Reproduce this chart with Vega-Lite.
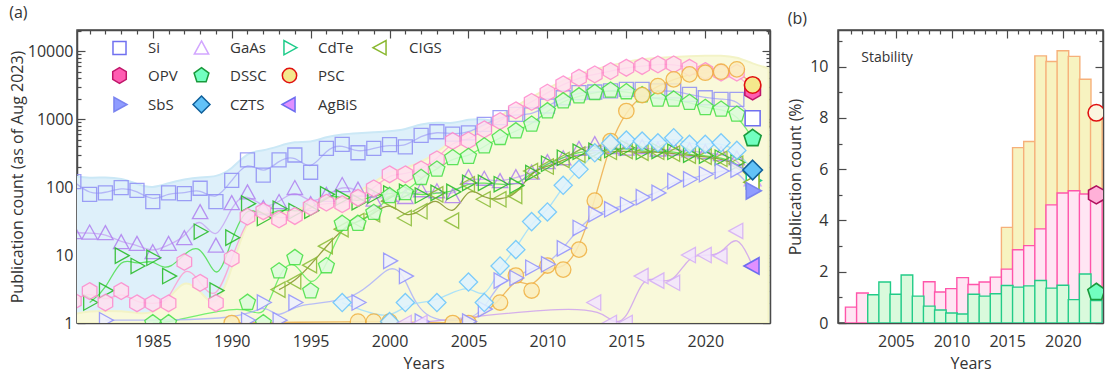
{
"$schema": "https://vega.github.io/schema/vega-lite/v6.json",
"padding": {"left": 8, "top": 3, "right": 0, "bottom": 0},
"background": "white",
"config": {
 "font": "Open Sans",
 "view": {"stroke": "#4a4a4a", "strokeWidth": 1.5},
 "axis": {"labelFontSize": 16, "titleFontSize": 16, "labelColor": "#333", "titleColor": "#333", "titleFontWeight": "normal", "domainColor": "#4a4a4a", "tickColor": "#4a4a4a", "domainWidth": 1.5, "tickWidth": 1.2, "grid": false, "labelFlush": false, "labelOverlap": false},
 "title": {"fontSize": 16, "fontWeight": "normal", "color": "#333", "anchor": "start", "frame": "bounds"}
},
"datasets": {
 "pv": [
  {"s":"Si","y":1980,"v":120},{"s":"Si","y":1981,"v":78},{"s":"Si","y":1982,"v":82},{"s":"Si","y":1983,"v":98},{"s":"Si","y":1984,"v":89},{"s":"Si","y":1985,"v":61},{"s":"Si","y":1986,"v":82},{"s":"Si","y":1987,"v":80},{"s":"Si","y":1988,"v":96},{"s":"Si","y":1989,"v":61},{"s":"Si","y":1990,"v":125},{"s":"Si","y":1991,"v":250},{"s":"Si","y":1992,"v":150},{"s":"Si","y":1993,"v":250},{"s":"Si","y":1994,"v":296},{"s":"Si","y":1995,"v":165},{"s":"Si","y":1996,"v":371},{"s":"Si","y":1997,"v":424},{"s":"Si","y":1998,"v":319},{"s":"Si","y":1999,"v":371},{"s":"Si","y":2000,"v":420},{"s":"Si","y":2001,"v":390},{"s":"Si","y":2002,"v":575},{"s":"Si","y":2003,"v":650},{"s":"Si","y":2004,"v":600},{"s":"Si","y":2005,"v":625},{"s":"Si","y":2006,"v":835},{"s":"Si","y":2007,"v":1050},{"s":"Si","y":2008,"v":1170},{"s":"Si","y":2009,"v":1150},{"s":"Si","y":2010,"v":1555},{"s":"Si","y":2011,"v":2056},{"s":"Si","y":2012,"v":2438},{"s":"Si","y":2013,"v":2500},{"s":"Si","y":2014,"v":2600},{"s":"Si","y":2015,"v":2735},{"s":"Si","y":2016,"v":2735},{"s":"Si","y":2017,"v":2600},{"s":"Si","y":2018,"v":2600},{"s":"Si","y":2019,"v":2300},{"s":"Si","y":2020,"v":2056},{"s":"Si","y":2021,"v":1950},{"s":"Si","y":2022,"v":1950},{"s":"Si","y":2023,"v":1025},
  {"s":"GaAs","y":1980,"v":21.3},{"s":"GaAs","y":1981,"v":21},{"s":"GaAs","y":1982,"v":20.6},{"s":"GaAs","y":1983,"v":15.2},{"s":"GaAs","y":1984,"v":14.3},{"s":"GaAs","y":1985,"v":10.8},{"s":"GaAs","y":1986,"v":14.3},{"s":"GaAs","y":1987,"v":17.4},{"s":"GaAs","y":1988,"v":41.9},{"s":"GaAs","y":1989,"v":13.5},{"s":"GaAs","y":1990,"v":57},{"s":"GaAs","y":1991,"v":82},{"s":"GaAs","y":1992,"v":48},{"s":"GaAs","y":1993,"v":59},{"s":"GaAs","y":1994,"v":95},{"s":"GaAs","y":1995,"v":55},{"s":"GaAs","y":1996,"v":75},{"s":"GaAs","y":1997,"v":105},{"s":"GaAs","y":1998,"v":90},{"s":"GaAs","y":1999,"v":64},{"s":"GaAs","y":2000,"v":75},{"s":"GaAs","y":2001,"v":70},{"s":"GaAs","y":2002,"v":88},{"s":"GaAs","y":2003,"v":85},{"s":"GaAs","y":2004,"v":72},{"s":"GaAs","y":2005,"v":137},{"s":"GaAs","y":2006,"v":130},{"s":"GaAs","y":2007,"v":120},{"s":"GaAs","y":2008,"v":137},{"s":"GaAs","y":2009,"v":160},{"s":"GaAs","y":2010,"v":228},{"s":"GaAs","y":2011,"v":260},{"s":"GaAs","y":2012,"v":358},{"s":"GaAs","y":2013,"v":420},{"s":"GaAs","y":2014,"v":380},{"s":"GaAs","y":2015,"v":360},{"s":"GaAs","y":2016,"v":380},{"s":"GaAs","y":2017,"v":350},{"s":"GaAs","y":2018,"v":360},{"s":"GaAs","y":2019,"v":340},{"s":"GaAs","y":2020,"v":320},{"s":"GaAs","y":2021,"v":300},{"s":"GaAs","y":2022,"v":260},{"s":"GaAs","y":2023,"v":130},
  {"s":"CdTe","y":1981,"v":2.0},{"s":"CdTe","y":1982,"v":3.0},{"s":"CdTe","y":1983,"v":9.8},{"s":"CdTe","y":1984,"v":6.9},{"s":"CdTe","y":1985,"v":9.1},{"s":"CdTe","y":1986,"v":4.9},{"s":"CdTe","y":1988,"v":22},{"s":"CdTe","y":1989,"v":3.0},{"s":"CdTe","y":1990,"v":18},{"s":"CdTe","y":1991,"v":57},{"s":"CdTe","y":1992,"v":35},{"s":"CdTe","y":1993,"v":48},{"s":"CdTe","y":1994,"v":44},{"s":"CdTe","y":1995,"v":45},{"s":"CdTe","y":1996,"v":78},{"s":"CdTe","y":1997,"v":70},{"s":"CdTe","y":1998,"v":60},{"s":"CdTe","y":1999,"v":75},{"s":"CdTe","y":2000,"v":80},{"s":"CdTe","y":2001,"v":85},{"s":"CdTe","y":2002,"v":75},{"s":"CdTe","y":2003,"v":82},{"s":"CdTe","y":2004,"v":85},{"s":"CdTe","y":2005,"v":115},{"s":"CdTe","y":2006,"v":115},{"s":"CdTe","y":2007,"v":110},{"s":"CdTe","y":2008,"v":105},{"s":"CdTe","y":2009,"v":160},{"s":"CdTe","y":2010,"v":220},{"s":"CdTe","y":2011,"v":270},{"s":"CdTe","y":2012,"v":330},{"s":"CdTe","y":2013,"v":340},{"s":"CdTe","y":2014,"v":350},{"s":"CdTe","y":2015,"v":378},{"s":"CdTe","y":2016,"v":330},{"s":"CdTe","y":2017,"v":340},{"s":"CdTe","y":2018,"v":330},{"s":"CdTe","y":2019,"v":300},{"s":"CdTe","y":2020,"v":290},{"s":"CdTe","y":2021,"v":270},{"s":"CdTe","y":2022,"v":230},{"s":"CdTe","y":2023,"v":125},
  {"s":"CIGS","y":1993,"v":3.1},{"s":"CIGS","y":1994,"v":4.1},{"s":"CIGS","y":1995,"v":7.1},{"s":"CIGS","y":1996,"v":13.5},{"s":"CIGS","y":1997,"v":24},{"s":"CIGS","y":1998,"v":31.6},{"s":"CIGS","y":1999,"v":40},{"s":"CIGS","y":2000,"v":62},{"s":"CIGS","y":2001,"v":35},{"s":"CIGS","y":2002,"v":44},{"s":"CIGS","y":2003,"v":78},{"s":"CIGS","y":2004,"v":32},{"s":"CIGS","y":2005,"v":110},{"s":"CIGS","y":2006,"v":66},{"s":"CIGS","y":2007,"v":66},{"s":"CIGS","y":2008,"v":74},{"s":"CIGS","y":2009,"v":172},{"s":"CIGS","y":2010,"v":200},{"s":"CIGS","y":2011,"v":250},{"s":"CIGS","y":2012,"v":300},{"s":"CIGS","y":2013,"v":320},{"s":"CIGS","y":2014,"v":330},{"s":"CIGS","y":2015,"v":340},{"s":"CIGS","y":2016,"v":320},{"s":"CIGS","y":2017,"v":330},{"s":"CIGS","y":2018,"v":310},{"s":"CIGS","y":2019,"v":290},{"s":"CIGS","y":2020,"v":280},{"s":"CIGS","y":2021,"v":260},{"s":"CIGS","y":2022,"v":220},{"s":"CIGS","y":2023,"v":118},
  {"s":"OPV","y":1980,"v":2.1},{"s":"OPV","y":1981,"v":2.95},{"s":"OPV","y":1982,"v":2.0},{"s":"OPV","y":1983,"v":2.95},{"s":"OPV","y":1984,"v":1.95},{"s":"OPV","y":1985,"v":1.95},{"s":"OPV","y":1986,"v":1.95},{"s":"OPV","y":1987,"v":7.9},{"s":"OPV","y":1988,"v":3.9},{"s":"OPV","y":1989,"v":1.97},{"s":"OPV","y":1990,"v":8.9},{"s":"OPV","y":1991,"v":36.6},{"s":"OPV","y":1992,"v":44},{"s":"OPV","y":1993,"v":33.5},{"s":"OPV","y":1994,"v":37.5},{"s":"OPV","y":1995,"v":51},{"s":"OPV","y":1996,"v":59},{"s":"OPV","y":1997,"v":56},{"s":"OPV","y":1998,"v":69.6},{"s":"OPV","y":1999,"v":95.6},{"s":"OPV","y":2000,"v":154},{"s":"OPV","y":2001,"v":154},{"s":"OPV","y":2002,"v":182},{"s":"OPV","y":2003,"v":255},{"s":"OPV","y":2004,"v":475},{"s":"OPV","y":2005,"v":485},{"s":"OPV","y":2006,"v":706},{"s":"OPV","y":2007,"v":934},{"s":"OPV","y":2008,"v":1343},{"s":"OPV","y":2009,"v":1790},{"s":"OPV","y":2010,"v":2440},{"s":"OPV","y":2011,"v":3240},{"s":"OPV","y":2012,"v":4050},{"s":"OPV","y":2013,"v":4540},{"s":"OPV","y":2014,"v":5080},{"s":"OPV","y":2015,"v":5680},{"s":"OPV","y":2016,"v":6020},{"s":"OPV","y":2017,"v":6370},{"s":"OPV","y":2018,"v":6370},{"s":"OPV","y":2019,"v":5680},{"s":"OPV","y":2020,"v":5080},{"s":"OPV","y":2021,"v":4800},{"s":"OPV","y":2022,"v":4800},{"s":"OPV","y":2023,"v":2600},
  {"s":"DSSC","y":1985,"v":1},{"s":"DSSC","y":1986,"v":1},{"s":"DSSC","y":1991,"v":2.0},{"s":"DSSC","y":1992,"v":1},{"s":"DSSC","y":1993,"v":5.8},{"s":"DSSC","y":1994,"v":9.1},{"s":"DSSC","y":1995,"v":2.95},{"s":"DSSC","y":1996,"v":6.9},{"s":"DSSC","y":1997,"v":29},{"s":"DSSC","y":1998,"v":29},{"s":"DSSC","y":1999,"v":42},{"s":"DSSC","y":2000,"v":74},{"s":"DSSC","y":2001,"v":82},{"s":"DSSC","y":2002,"v":137},{"s":"DSSC","y":2003,"v":182},{"s":"DSSC","y":2004,"v":268},{"s":"DSSC","y":2005,"v":280},{"s":"DSSC","y":2006,"v":400},{"s":"DSSC","y":2007,"v":531},{"s":"DSSC","y":2008,"v":666},{"s":"DSSC","y":2009,"v":834},{"s":"DSSC","y":2010,"v":1312},{"s":"DSSC","y":2011,"v":1840},{"s":"DSSC","y":2012,"v":2180},{"s":"DSSC","y":2013,"v":2440},{"s":"DSSC","y":2014,"v":2640},{"s":"DSSC","y":2015,"v":2500},{"s":"DSSC","y":2016,"v":2254},{"s":"DSSC","y":2017,"v":1950},{"s":"DSSC","y":2018,"v":1950},{"s":"DSSC","y":2019,"v":1740},{"s":"DSSC","y":2020,"v":1466},{"s":"DSSC","y":2021,"v":1389},{"s":"DSSC","y":2022,"v":1170},{"s":"DSSC","y":2023,"v":520},
  {"s":"PSC","y":1990,"v":1},{"s":"PSC","y":1998,"v":1.05},{"s":"PSC","y":1999,"v":1.05},{"s":"PSC","y":2000,"v":1.05},{"s":"PSC","y":2004,"v":1},{"s":"PSC","y":2005,"v":1},{"s":"PSC","y":2007,"v":2.0},{"s":"PSC","y":2008,"v":5.0},{"s":"PSC","y":2009,"v":3.0},{"s":"PSC","y":2010,"v":7.0},{"s":"PSC","y":2011,"v":6.1},{"s":"PSC","y":2012,"v":12},{"s":"PSC","y":2013,"v":63},{"s":"PSC","y":2014,"v":475},{"s":"PSC","y":2015,"v":1312},{"s":"PSC","y":2016,"v":2254},{"s":"PSC","y":2017,"v":3055},{"s":"PSC","y":2018,"v":3830},{"s":"PSC","y":2019,"v":4540},{"s":"PSC","y":2020,"v":4800},{"s":"PSC","y":2021,"v":4970},{"s":"PSC","y":2022,"v":5380},{"s":"PSC","y":2023,"v":3170},
  {"s":"SbS","y":1982,"v":1.1},{"s":"SbS","y":1991,"v":1.1},{"s":"SbS","y":1992,"v":2.0},{"s":"SbS","y":1993,"v":1.1},{"s":"SbS","y":1994,"v":2.0},{"s":"SbS","y":1998,"v":2.0},{"s":"SbS","y":2000,"v":8.2},{"s":"SbS","y":2001,"v":4.9},{"s":"SbS","y":2002,"v":1.05},{"s":"SbS","y":2005,"v":1.05},{"s":"SbS","y":2006,"v":1.6},{"s":"SbS","y":2007,"v":4.2},{"s":"SbS","y":2008,"v":4.6},{"s":"SbS","y":2009,"v":6.5},{"s":"SbS","y":2010,"v":7.3},{"s":"SbS","y":2011,"v":12.5},{"s":"SbS","y":2012,"v":25},{"s":"SbS","y":2013,"v":40},{"s":"SbS","y":2014,"v":47},{"s":"SbS","y":2015,"v":55},{"s":"SbS","y":2016,"v":71},{"s":"SbS","y":2017,"v":82},{"s":"SbS","y":2018,"v":122},{"s":"SbS","y":2019,"v":130},{"s":"SbS","y":2020,"v":154},{"s":"SbS","y":2021,"v":172},{"s":"SbS","y":2022,"v":180},{"s":"SbS","y":2023,"v":88},
  {"s":"CZTS","y":1997,"v":2.0},{"s":"CZTS","y":2000,"v":1.05},{"s":"CZTS","y":2001,"v":2.0},{"s":"CZTS","y":2003,"v":2.0},{"s":"CZTS","y":2005,"v":4.0},{"s":"CZTS","y":2006,"v":2.0},{"s":"CZTS","y":2007,"v":6.9},{"s":"CZTS","y":2008,"v":12},{"s":"CZTS","y":2009,"v":31},{"s":"CZTS","y":2010,"v":43},{"s":"CZTS","y":2011,"v":106},{"s":"CZTS","y":2012,"v":182},{"s":"CZTS","y":2013,"v":319},{"s":"CZTS","y":2014,"v":440},{"s":"CZTS","y":2015,"v":490},{"s":"CZTS","y":2016,"v":475},{"s":"CZTS","y":2017,"v":447},{"s":"CZTS","y":2018,"v":531},{"s":"CZTS","y":2019,"v":425},{"s":"CZTS","y":2020,"v":425},{"s":"CZTS","y":2021,"v":447},{"s":"CZTS","y":2022,"v":346},{"s":"CZTS","y":2023,"v":178},
  {"s":"AgBiS","y":2001,"v":1.0},{"s":"AgBiS","y":2002,"v":1.0},{"s":"AgBiS","y":2013,"v":2.0},{"s":"AgBiS","y":2014,"v":1.0},{"s":"AgBiS","y":2015,"v":1.0},{"s":"AgBiS","y":2016,"v":4.9},{"s":"AgBiS","y":2017,"v":4.2},{"s":"AgBiS","y":2018,"v":3.9},{"s":"AgBiS","y":2019,"v":10},{"s":"AgBiS","y":2020,"v":10},{"s":"AgBiS","y":2021,"v":9.7},{"s":"AgBiS","y":2022,"v":22.6},{"s":"AgBiS","y":2023,"v":6.9}
 ],
 "blue": [
  {"y":1980,"v":145},{"y":1981,"v":135},{"y":1982,"v":140},{"y":1983,"v":135},{"y":1984,"v":110},{"y":1985,"v":95},{"y":1986,"v":115},{"y":1987,"v":130},{"y":1988,"v":140},{"y":1989,"v":140},{"y":1990,"v":180},{"y":1991,"v":330},{"y":1992,"v":340},{"y":1993,"v":400},{"y":1994,"v":470},{"y":1995,"v":450},{"y":1996,"v":550},{"y":1997,"v":600},{"y":1998,"v":620},{"y":1999,"v":640},{"y":2000,"v":660},{"y":2001,"v":700},{"y":2002,"v":850},{"y":2003,"v":900},{"y":2004,"v":850},{"y":2005,"v":1000},{"y":2006,"v":1000},{"y":2007,"v":900},{"y":2008,"v":800},{"y":2010,"v":700},{"y":2024,"v":700}
 ],
 "yellow": [
  {"y":1980,"v":1.35},{"y":1981,"v":1.5},{"y":1982,"v":1.5},{"y":1983,"v":1.5},{"y":1984,"v":1.4},{"y":1985,"v":1.35},{"y":1986,"v":2.2},{"y":1987,"v":4.6},{"y":1988,"v":3.0},{"y":1989,"v":1.5},{"y":1990,"v":6},{"y":1991,"v":38},{"y":1992,"v":42},{"y":1993,"v":40},{"y":1994,"v":45},{"y":1995,"v":55},{"y":1996,"v":65},{"y":1997,"v":70},{"y":1998,"v":85},{"y":1999,"v":115},{"y":2000,"v":170},{"y":2001,"v":190},{"y":2002,"v":230},{"y":2003,"v":320},{"y":2004,"v":500},{"y":2005,"v":580},{"y":2006,"v":820},{"y":2007,"v":1100},{"y":2008,"v":1550},{"y":2009,"v":2100},{"y":2010,"v":2800},{"y":2011,"v":3700},{"y":2012,"v":4600},{"y":2013,"v":5400},{"y":2014,"v":6100},{"y":2015,"v":7000},{"y":2016,"v":7600},{"y":2017,"v":8000},{"y":2018,"v":8200},{"y":2019,"v":8400},{"y":2020,"v":8500},{"y":2021,"v":8600},{"y":2022,"v":8200},{"y":2023,"v":6500},{"y":2024,"v":5600}
 ],
 "stab": [
  {"y":2015,"s":"PSC","p":3.73},{"y":2016,"s":"PSC","p":6.84},{"y":2017,"s":"PSC","p":7.08},{"y":2018,"s":"PSC","p":10.42},{"y":2019,"s":"PSC","p":10.2},{"y":2020,"s":"PSC","p":10.62},{"y":2021,"s":"PSC","p":10.4},{"y":2022,"s":"PSC","p":9.51},{"y":2023,"s":"PSC","p":8.2},
  {"y":2001,"s":"OPV","p":0.62},{"y":2002,"s":"OPV","p":1.17},{"y":2008,"s":"OPV","p":1.61},{"y":2009,"s":"OPV","p":1.21},{"y":2010,"s":"OPV","p":1.34},{"y":2011,"s":"OPV","p":1.77},{"y":2012,"s":"OPV","p":1.5},{"y":2013,"s":"OPV","p":1.6},{"y":2014,"s":"OPV","p":1.79},{"y":2015,"s":"OPV","p":2.1},{"y":2016,"s":"OPV","p":2.86},{"y":2017,"s":"OPV","p":3.02},{"y":2018,"s":"OPV","p":3.67},{"y":2019,"s":"OPV","p":4.61},{"y":2020,"s":"OPV","p":5.07},{"y":2021,"s":"OPV","p":5.16},{"y":2022,"s":"OPV","p":5.03},{"y":2023,"s":"OPV","p":5.0},
  {"y":2003,"s":"DSSC","p":1.1},{"y":2004,"s":"DSSC","p":1.6},{"y":2005,"s":"DSSC","p":1.12},{"y":2006,"s":"DSSC","p":1.87},{"y":2007,"s":"DSSC","p":1.05},{"y":2008,"s":"DSSC","p":0.66},{"y":2009,"s":"DSSC","p":0.51},{"y":2010,"s":"DSSC","p":0.39},{"y":2011,"s":"DSSC","p":0.35},{"y":2012,"s":"DSSC","p":1.12},{"y":2013,"s":"DSSC","p":1.05},{"y":2014,"s":"DSSC","p":1.14},{"y":2015,"s":"DSSC","p":1.46},{"y":2016,"s":"DSSC","p":1.4},{"y":2017,"s":"DSSC","p":1.45},{"y":2018,"s":"DSSC","p":1.66},{"y":2019,"s":"DSSC","p":1.36},{"y":2020,"s":"DSSC","p":1.47},{"y":2021,"s":"DSSC","p":0.91},{"y":2022,"s":"DSSC","p":1.91},{"y":2023,"s":"DSSC","p":0.88}
 ],
 "stabpts": [
  {"y":2023,"s":"PSC","p":8.2},{"y":2023,"s":"OPV","p":5.0},{"y":2023,"s":"DSSC","p":1.2}
 ],
 "lbl": [{"t":"Stability","y":2001.9,"p":10.32}]
},
"spacing": 14,
"hconcat": [
 {
  "width": 693, "height": 293,
  "title": {"text": "(a)", "offset": 2},
  "resolve": {"scale": {"color": "independent", "fill": "independent", "stroke": "independent", "shape": "independent"}, "axis": {"x": "independent", "y": "independent"}},
  "layer": [
   {
    "data": {"name": "blue"},
    "mark": {"type": "area", "interpolate": "basis", "color": "#def0fa", "stroke": "#cbe8f6", "strokeWidth": 2, "clip": true},
    "encoding": {
     "x": {"field": "y", "type": "quantitative", "scale": {"domain": [1980.2, 2024.1], "nice": false, "zero": false},
       "axis": {"orient": "bottom", "values": [1981,1982,1983,1984,1985,1986,1987,1988,1989,1990,1991,1992,1993,1994,1995,1996,1997,1998,1999,2000,2001,2002,2003,2004,2005,2006,2007,2008,2009,2010,2011,2012,2013,2014,2015,2016,2017,2018,2019,2020,2021,2022,2023,2024], "format": "d", "labelExpr": "datum.value % 5 === 0 ? datum.label : ''", "tickSize": {"condition": {"test": "datum.value % 5 === 0", "value": -8}, "value": -4}, "labelPadding": 18, "title": "Years", "titlePadding": 2}},
     "y": {"field": "v", "type": "quantitative", "scale": {"type": "log", "domain": [1, 20400], "nice": false},
       "axis": {"orient": "left", "values": [1,2,3,4,5,6,7,8,9,10,20,30,40,50,60,70,80,90,100,200,300,400,500,600,700,800,900,1000,2000,3000,4000,5000,6000,7000,8000,9000,10000,20000], "format": "d", "labelExpr": "(datum.value==1||datum.value==10||datum.value==100||datum.value==1000||datum.value==10000) ? datum.label : ''", "tickSize": {"condition": {"test": "datum.value==1||datum.value==10||datum.value==100||datum.value==1000||datum.value==10000", "value": -8}, "value": -4}, "labelPadding": 12, "title": "Publication count (as  of Aug 2023)", "titlePadding": 2}},
     "y2": {"datum": 1}
    }
   },
   {
    "data": {"name": "yellow"},
    "mark": {"type": "area", "interpolate": "basis", "color": "#f9f9da", "stroke": "#f3f3c6", "strokeWidth": 2, "clip": true},
    "encoding": {
     "x": {"field": "y", "type": "quantitative", "scale": {"domain": [1980.2, 2024.1], "nice": false, "zero": false},
       "axis": {"orient": "top", "values": [1981,1982,1983,1984,1985,1986,1987,1988,1989,1990,1991,1992,1993,1994,1995,1996,1997,1998,1999,2000,2001,2002,2003,2004,2005,2006,2007,2008,2009,2010,2011,2012,2013,2014,2015,2016,2017,2018,2019,2020,2021,2022,2023,2024], "labels": false, "tickSize": {"condition": {"test": "datum.value % 5 === 0", "value": -8}, "value": -4}, "title": null}},
     "y": {"field": "v", "type": "quantitative", "scale": {"type": "log", "domain": [1, 20400], "nice": false},
       "axis": {"orient": "right", "values": [1,2,3,4,5,6,7,8,9,10,20,30,40,50,60,70,80,90,100,200,300,400,500,600,700,800,900,1000,2000,3000,4000,5000,6000,7000,8000,9000,10000,20000], "labels": false, "tickSize": {"condition": {"test": "datum.value==1||datum.value==10||datum.value==100||datum.value==1000||datum.value==10000", "value": -8}, "value": -4}, "title": null}},
     "y2": {"datum": 1}
    }
   },
   {
    "data": {"name": "pv"},
    "mark": {"type": "line", "interpolate": "basis", "strokeWidth": 1.3, "opacity": 0.8, "clip": true},
    "encoding": {
     "x": {"field": "y", "type": "quantitative", "scale": {"domain": [1980.2, 2024.1], "nice": false, "zero": false}, "axis": null},
     "y": {"field": "v", "type": "quantitative", "scale": {"type": "log", "domain": [1, 20400], "nice": false}, "axis": null},
     "color": {"field": "s", "type": "nominal", "legend": null, "scale": {"domain": ["Si","GaAs","CdTe","CIGS","OPV","DSSC","PSC","SbS","CZTS","AgBiS"], "range": ["#a9a9f6","#c6a2f2","#44dd44","#7c8c1c","#ff99cc","#55ee55","#eeaa44","#a8aefc","#99dcff","#cc9cef"]}},
     "detail": {"field": "s"}
    }
   },
   {
    "data": {"name": "pv"},
    "transform": [{"filter": "datum.y < 2023"}],
    "mark": {"type": "point", "size": 196, "strokeWidth": 1.3, "opacity": 0.85, "clip": true},
    "encoding": {
     "x": {"field": "y", "type": "quantitative", "scale": {"domain": [1980.2, 2024.1], "nice": false, "zero": false}, "axis": null},
     "y": {"field": "v", "type": "quantitative", "scale": {"type": "log", "domain": [1, 20400], "nice": false}, "axis": null},
     "shape": {"field": "s", "type": "nominal", "legend": null, "scale": {"domain": ["Si","GaAs","CdTe","CIGS","OPV","DSSC","PSC","SbS","CZTS","AgBiS"], "range": ["M-1,-1L1,-1L1,1L-1,1Z","M0,-1.15L1.1,0.85L-1.1,0.85Z","M1.15,0L-0.85,1.1L-0.85,-1.1Z","M-1.15,0L0.85,-1.1L0.85,1.1Z","M0,-1.2L1.04,-0.6L1.04,0.6L0,1.2L-1.04,0.6L-1.04,-0.6Z","M0,-1.2L1.14,-0.37L0.71,0.97L-0.71,0.97L-1.14,-0.37Z","M1.1,0A1.1,1.1,0,1,1,-1.1,0A1.1,1.1,0,1,1,1.1,0Z","M1.15,0L-0.85,1.1L-0.85,-1.1Z","M0,-1.3L1.3,0L0,1.3L-1.3,0Z","M-1.15,0L0.85,-1.1L0.85,1.1Z"]}},
     "stroke": {"field": "s", "type": "nominal", "legend": null, "scale": {"domain": ["Si","GaAs","CdTe","CIGS","OPV","DSSC","PSC","SbS","CZTS","AgBiS"], "range": ["#8f8ff5","#b080f0","#22bb22","#88bb33","#ff88cc","#44e044","#f0b040","#9090ff","#66c4ff","#d4acf8"]}},
     "fill": {"field": "s", "type": "nominal", "legend": null, "scale": {"domain": ["Si","GaAs","CdTe","CIGS","OPV","DSSC","PSC","SbS","CZTS","AgBiS"], "range": ["transparent","transparent","transparent","transparent","#ffe0f0","#dcfcdc","#fbeebc","#eef0ff","#dff3ff","#f3e4ff"]}}
    }
   },
   {
    "data": {"name": "pv"},
    "transform": [{"filter": "datum.y == 2023"}],
    "mark": {"type": "point", "size": 225, "strokeWidth": 1.6, "opacity": 1, "clip": true},
    "encoding": {
     "x": {"field": "y", "type": "quantitative", "scale": {"domain": [1980.2, 2024.1], "nice": false, "zero": false}, "axis": null},
     "y": {"field": "v", "type": "quantitative", "scale": {"type": "log", "domain": [1, 20400], "nice": false}, "axis": null},
     "shape": {"field": "s", "type": "nominal", "scale": {"domain": ["Si","GaAs","CdTe","CIGS","OPV","DSSC","PSC"," ","SbS","CZTS","AgBiS"], "range": ["M-1,-1L1,-1L1,1L-1,1Z","M0,-1.15L1.1,0.85L-1.1,0.85Z","M1.15,0L-0.85,1.1L-0.85,-1.1Z","M-1.15,0L0.85,-1.1L0.85,1.1Z","M0,-1.2L1.04,-0.6L1.04,0.6L0,1.2L-1.04,0.6L-1.04,-0.6Z","M0,-1.2L1.14,-0.37L0.71,0.97L-0.71,0.97L-1.14,-0.37Z","M1.1,0A1.1,1.1,0,1,1,-1.1,0A1.1,1.1,0,1,1,1.1,0Z","M0,0L0,0Z","M1.15,0L-0.85,1.1L-0.85,-1.1Z","M0,-1.3L1.3,0L0,1.3L-1.3,0Z","M-1.15,0L0.85,-1.1L0.85,1.1Z"]},
       "legend": {"orient": "none", "direction": "horizontal", "legendX": 35, "legendY": 10, "columns": 4, "title": null, "labelFontSize": 15, "labelColor": "#333", "symbolSize": 170, "symbolStrokeWidth": 1.5, "labelOffset": 21, "columnPadding": 12, "rowPadding": 6, "gridAlign": "each"}},
     "stroke": {"field": "s", "type": "nominal", "scale": {"domain": ["Si","GaAs","CdTe","CIGS","OPV","DSSC","PSC"," ","SbS","CZTS","AgBiS"], "range": ["#7070f0","#d2a6ff","#1dcc8a","#8ab830","#c0166a","#1a9a3c","#e01010","transparent","#7a84f0","#0f5f9a","#6d6df0"]},
       "legend": {"orient": "none", "direction": "horizontal", "legendX": 35, "legendY": 10, "columns": 4, "title": null, "labelFontSize": 15, "labelColor": "#333", "symbolSize": 170, "symbolStrokeWidth": 1.5, "labelOffset": 21, "columnPadding": 12, "rowPadding": 6, "gridAlign": "each"}},
     "fill": {"field": "s", "type": "nominal", "scale": {"domain": ["Si","GaAs","CdTe","CIGS","OPV","DSSC","PSC"," ","SbS","CZTS","AgBiS"], "range": ["#ffffff","#ffffff","#ffffff","#ffffff","#ff5db2","#72ffc0","#f4e88c","transparent","#8f9cff","#62c2f8","#e190ff"]},
       "legend": {"orient": "none", "direction": "horizontal", "legendX": 35, "legendY": 10, "columns": 4, "title": null, "labelFontSize": 15, "labelColor": "#333", "symbolSize": 170, "symbolStrokeWidth": 1.5, "labelOffset": 21, "columnPadding": 12, "rowPadding": 6, "gridAlign": "each"}}
    }
   }
  ]
 },
 {
  "width": 265, "height": 293,
  "title": {"text": "(b)", "offset": 2},
  "resolve": {"scale": {"fill": "independent", "stroke": "independent", "shape": "independent"}, "axis": {"x": "independent", "y": "independent"}},
  "layer": [
   {
    "data": {"name": "stab"},
    "mark": {"type": "bar", "width": 11.6, "strokeWidth": 1.4, "clip": true},
    "encoding": {
     "x": {"field": "y", "type": "quantitative", "scale": {"domain": [2000.26, 2023.15], "nice": false, "zero": false},
       "axis": {"orient": "bottom", "values": [2001,2002,2003,2004,2005,2006,2007,2008,2009,2010,2011,2012,2013,2014,2015,2016,2017,2018,2019,2020,2021,2022,2023], "format": "d", "labelExpr": "datum.value % 5 === 0 ? datum.label : ''", "tickSize": {"condition": {"test": "datum.value % 5 === 0", "value": -8}, "value": -4}, "labelPadding": 18, "title": "Years", "titlePadding": 2}},
     "y": {"field": "p", "type": "quantitative", "stack": null, "scale": {"domain": [0, 11.43], "nice": false},
       "axis": {"orient": "left", "values": [0,1,2,3,4,5,6,7,8,9,10,11], "format": "d", "labelExpr": "datum.value % 2 === 0 ? datum.label : ''", "tickSize": {"condition": {"test": "datum.value % 2 === 0", "value": -8}, "value": -4}, "labelPadding": 18, "title": "Publication count (%)", "titlePadding": 6}},
     "fill": {"field": "s", "type": "nominal", "legend": null, "scale": {"domain": ["PSC","OPV","DSSC"], "range": ["#f7f3c0","#ffe5f3","#d9fadc"]}},
     "stroke": {"field": "s", "type": "nominal", "legend": null, "scale": {"domain": ["PSC","OPV","DSSC"], "range": ["#f6b07a","#ff55aa","#22cc88"]}}
    }
   },
   {
    "data": {"name": "stabpts"},
    "mark": {"type": "point", "size": 225, "strokeWidth": 1.6, "opacity": 1, "clip": true},
    "encoding": {
     "x": {"field": "y", "type": "quantitative", "scale": {"domain": [2000.26, 2023.15], "nice": false, "zero": false},
       "axis": {"orient": "top", "values": [2001,2002,2003,2004,2005,2006,2007,2008,2009,2010,2011,2012,2013,2014,2015,2016,2017,2018,2019,2020,2021,2022,2023], "labels": false, "tickSize": {"condition": {"test": "datum.value % 5 === 0", "value": -8}, "value": -4}, "title": null}},
     "y": {"field": "p", "type": "quantitative", "scale": {"domain": [0, 11.43], "nice": false},
       "axis": {"orient": "right", "values": [0,1,2,3,4,5,6,7,8,9,10,11], "labels": false, "tickSize": {"condition": {"test": "datum.value % 2 === 0", "value": -8}, "value": -4}, "title": null}},
     "shape": {"field": "s", "type": "nominal", "legend": null, "scale": {"domain": ["PSC","OPV","DSSC"], "range": ["M1.1,0A1.1,1.1,0,1,1,-1.1,0A1.1,1.1,0,1,1,1.1,0Z","M0,-1.2L1.04,-0.6L1.04,0.6L0,1.2L-1.04,0.6L-1.04,-0.6Z","M0,-1.2L1.14,-0.37L0.71,0.97L-0.71,0.97L-1.14,-0.37Z"]}},
     "fill": {"field": "s", "type": "nominal", "legend": null, "scale": {"domain": ["PSC","OPV","DSSC"], "range": ["#fbf6e0","#ffb0d8","#72ffc0"]}},
     "stroke": {"field": "s", "type": "nominal", "legend": null, "scale": {"domain": ["PSC","OPV","DSSC"], "range": ["#e01010","#b0105e","#1a9a3c"]}}
    }
   },
   {
    "data": {"name": "lbl"},
    "mark": {"type": "text", "align": "left", "baseline": "middle", "fontSize": 14, "color": "#333"},
    "encoding": {
     "x": {"field": "y", "type": "quantitative", "scale": {"domain": [2000.26, 2023.15], "nice": false, "zero": false}, "axis": null},
     "y": {"field": "p", "type": "quantitative", "scale": {"domain": [0, 11.43], "nice": false}, "axis": null},
     "text": {"field": "t"}
    }
   }
  ]
 }
]
}
